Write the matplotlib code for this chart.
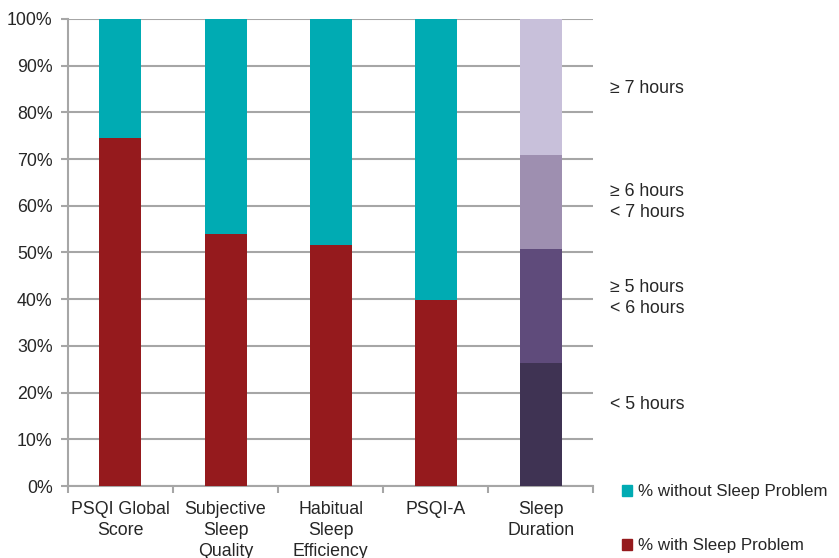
import numpy as np
import matplotlib.pyplot as plt
import matplotlib.transforms as mtransforms
from matplotlib.patches import Patch

plt.rcParams['font.family'] = ['Liberation Sans', 'DejaVu Sans']

categories = ['PSQI Global\nScore', 'Subjective\nSleep\nQuality', 'Habitual\nSleep\nEfficiency', 'PSQI-A']
with_problem = [74.5, 54.0, 51.6, 39.8]
without_problem = [100 - v for v in with_problem]

# sleep duration shares, bottom to top
duration_labels = ['< 5 hours', '\u2265 5 hours\n< 6 hours', '\u2265 6 hours\n< 7 hours', '\u2265 7 hours']
duration_values = [26.3, 24.4, 20.2, 29.1]
duration_label_y = [17.5, 40.3, 60.9, 85.2]

teal = '#00abb3'
red = '#951a1d'
purples = ['#3f3353', '#5f4b7b', '#9e8fb0', '#c8c0da']
grid_col = '#a6a6a6'
text_col = '#262626'
fs = 12.8

fig = plt.figure(figsize=(8.39, 5.58), dpi=100)
ax = fig.add_axes([0.081, 0.129, 0.626, 0.837])

x = np.arange(len(categories))
w = 0.4
ax.bar(x, with_problem, w, color=red, zorder=3)
ax.bar(x, without_problem, w, bottom=with_problem, color=teal, zorder=3)

xd = len(categories)
bottom = 0
for val, col in zip(duration_values, purples):
    ax.bar(xd, val, w, bottom=bottom, color=col, zorder=3)
    bottom += val

ax.set_xlim(-0.5, 4.5)
ax.set_ylim(0, 100)
ax.set_yticks(np.arange(0, 101, 10))
ax.set_yticklabels([f'{v}%' for v in range(0, 101, 10)])
ax.set_xticks(list(x) + [xd])
ax.set_xticklabels(categories + ['Sleep\nDuration'], va='top', linespacing=1.3)
ax.set_xticks(np.arange(-0.5, 5, 1), minor=True)
ax.tick_params(axis='x', which='major', length=0, pad=11, labelsize=fs, colors=text_col)
ax.tick_params(axis='x', which='minor', length=5, width=1.5, color=grid_col)
ax.tick_params(axis='y', length=5, width=1.5, color=grid_col, labelsize=fs, labelcolor=text_col, pad=6)

ax.yaxis.grid(True, color=grid_col, linewidth=1.5, zorder=0)
for s in ['top', 'right']:
    ax.spines[s].set_visible(False)
for s in ['left', 'bottom']:
    ax.spines[s].set_color(grid_col)
    ax.spines[s].set_linewidth(1.5)

trans = mtransforms.blended_transform_factory(fig.transFigure, ax.transData)
for lab, yv in zip(duration_labels, duration_label_y):
    ax.text(647 / 839, yv, lab, transform=trans, ha='center', va='center',
            fontsize=fs, color=text_col, linespacing=1.3)

handles = [Patch(color=teal, label='% without Sleep Problem'),
           Patch(color=red, label='% with Sleep Problem')]
fig.legend(handles=handles, loc='upper left', bbox_to_anchor=(607 / 839, 1 - 469 / 558),
           frameon=False, fontsize=12.2, handlelength=0.6, handleheight=0.6,
           handletextpad=0.35, labelspacing=2.3, labelcolor=text_col)

fig.savefig('out.png', dpi=100)
